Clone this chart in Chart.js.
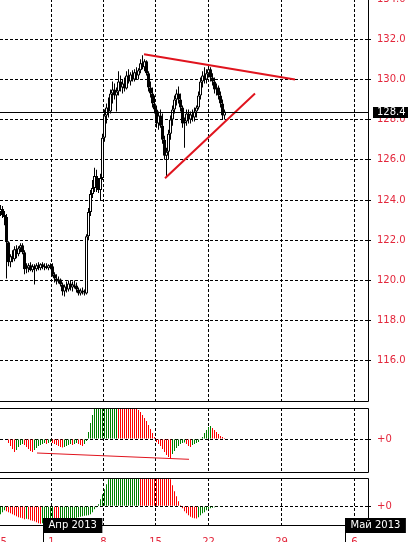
<!DOCTYPE html>
<html><head><meta charset="utf-8">
<script src="https://cdn.jsdelivr.net/npm/chart.js@4.4.1/dist/chart.umd.min.js"></script>
<style>
html,body{margin:0;padding:0;background:#fff;width:408px;height:542px;overflow:hidden;position:relative}
canvas{position:absolute;left:0}
</style></head><body>
<canvas id="c1" width="408" height="404" style="top:-1px;width:408px;height:404px"></canvas>
<canvas id="c2" width="408" height="68" style="top:406px;width:408px;height:68px"></canvas>
<canvas id="c3" width="408" height="66" style="top:476px;width:408px;height:66px"></canvas>
<script>
// ---------- DATA (bar index = H4 bar number) ----------
const open = [123.40,123.55,123.25,123.15,121.90,120.90,121.20,121.05,121.55,121.30,121.60,121.75,121.40,120.55,120.60,120.75,120.50,120.70,120.55,120.75,
120.60,120.80,120.65,120.70,120.60,120.75,120.70,120.30,120.10,119.95,120.05,119.80,119.45,119.70,119.55,119.85,119.65,119.80,119.75,119.55,
119.35,119.50,119.40,119.35,122.20,123.40,124.30,124.60,125.20,124.70,124.50,125.10,127.10,128.20,128.60,128.40,129.30,129.50,129.20,129.40,
129.90,129.60,129.80,129.55,130.20,129.90,130.25,130.00,130.35,130.20,130.45,130.80,130.60,130.90,130.30,129.60,129.30,128.80,128.50,127.80,
128.20,127.70,127.00,126.20,126.40,127.30,128.00,128.50,129.00,129.30,129.00,128.60,127.80,127.90,128.30,128.00,128.25,128.10,128.40,128.60,
129.20,129.90,130.20,130.00,130.30,130.50,130.10,129.90,129.50,129.60,129.20,128.80,128.20];
const high = [123.75,123.70,123.45,123.30,121.95,121.30,121.50,121.70,121.75,121.70,121.85,121.85,121.50,120.85,120.85,120.90,120.80,120.80,120.85,120.90,
120.85,120.90,120.85,120.85,120.80,120.85,120.85,120.40,120.30,120.20,120.10,119.90,119.80,119.95,120.00,120.00,119.95,120.00,119.90,119.65,
119.60,119.65,119.55,122.30,123.60,124.50,125.00,125.60,125.50,125.10,125.30,127.30,128.50,128.80,129.10,129.50,129.90,129.80,129.60,130.40,
130.20,130.00,130.10,130.40,130.50,130.35,130.45,130.50,130.60,130.55,131.00,131.20,131.00,130.95,130.40,129.90,129.60,129.20,128.70,128.40,
128.50,128.30,127.20,126.60,127.50,128.20,128.70,129.20,129.50,129.65,129.30,128.70,128.10,128.50,128.50,128.40,128.50,128.60,128.70,129.40,
130.10,130.40,130.60,130.50,130.70,130.60,130.30,130.10,129.80,129.70,129.40,129.00,128.50];
const low = [123.20,123.10,122.75,120.10,120.70,120.65,120.90,120.95,121.10,121.20,121.40,121.30,120.30,120.35,120.40,120.45,120.40,119.80,120.45,120.50,
120.50,120.55,120.50,120.55,120.50,120.55,120.20,119.90,119.80,119.85,119.70,119.25,119.20,119.40,119.45,119.50,119.45,119.60,119.40,119.25,
119.25,119.30,119.25,119.30,122.00,123.20,124.10,124.40,124.40,124.35,124.00,125.00,126.90,127.80,128.10,128.30,128.80,129.00,128.40,129.20,
129.40,129.30,129.40,129.50,129.80,129.70,129.90,129.90,130.00,130.00,130.30,130.50,130.40,130.20,129.40,129.10,128.60,128.30,127.60,127.50,
127.60,126.80,126.00,125.10,126.00,127.00,127.70,128.30,128.70,128.80,128.40,127.60,126.60,127.70,127.80,127.80,127.90,127.90,128.10,128.50,
129.00,129.60,129.80,129.80,130.10,129.90,129.70,129.30,129.20,129.00,128.60,128.00,128.00];
const close = [123.55,123.25,123.15,121.90,120.90,121.20,121.05,121.55,121.30,121.60,121.75,121.40,120.55,120.60,120.75,120.50,120.70,120.55,120.75,120.60,
120.80,120.65,120.70,120.60,120.75,120.70,120.30,120.10,119.95,120.05,119.80,119.45,119.70,119.55,119.85,119.65,119.80,119.75,119.55,119.35,
119.50,119.40,119.35,122.20,123.40,124.30,124.60,125.20,124.70,124.50,125.10,127.10,128.20,128.60,128.40,129.30,129.50,129.20,129.40,129.90,
129.60,129.80,129.55,130.20,129.90,130.25,130.00,130.35,130.20,130.45,130.80,130.60,130.90,130.30,129.60,129.30,128.80,128.50,127.80,128.20,
127.70,127.00,126.20,126.40,127.30,128.00,128.50,129.00,129.30,129.00,128.60,127.80,127.90,128.30,128.00,128.25,128.10,128.40,128.60,129.20,
129.90,130.20,130.00,130.30,130.50,130.10,129.90,129.50,129.60,129.20,128.80,128.20,128.40];

// oscillator 1 (first 4 bars not yet computed)
const osc1 = [null,null,null,null,-4,-7,-10,-13,-11,-8,-6,-5,-6,-8,-10,-12,-13,-11,-9,-7,
-6,-5,-4,-5,-4,-3,-4,-5,-6,-7,-8,-8.5,-8,-7,-6,-5,-6,-5,-4,-5,
-6,-7,-5,-2,7,16,24,30,35,39,42,46,50,53,55,57,58,59,60,58,
55,52,49,46,43,40,37,34,31,29,27,24,21,18,14,10,6,2,-3,-5,
-7,-10,-13,-16,-18,-19,-15,-12,-9,-7,-5,-4,-3.5,-5,-7,-8,-6,-5,-4,-3,
-1,2,6,9,12,13,11,9,7,5,3,2,1];
// oscillator 2
const osc2 = [-8,-6,-4,-5,-6,-7,-8,-9,-10,-11,-11.5,-12,-13,-12.5,-13,-14,-14.5,-15,-16,-17,
-17.5,-17,-16.5,-16,-15.5,-15,-14.8,-15.2,-15.6,-16,-15.5,-15,-14.5,-14,-13.5,-13,-12.5,-12,-11.5,-11,
-10.5,-10,-9.5,-9.2,-9,-8,-6,-3,-1,2,7,12,17,22,27,31,35,38,41,44,
46,48,50,52,53,54,55,56,57,58,57,55,53,51,49,47,45,43,41,39,
37,35,33,31,29,27,21,15,10,5,1,-2,-5,-7,-9,-10.5,-11.5,-12,-12.3,-11,
-9,-7,-6,-4,-3,-2,-1.5,-1,-0.8,-0.5,-0.3];

// trend lines (bar index, value)
const upperTrendX = [71.75, 147.25], upperTrendY = [131.25, 130.0];
const lowerTrendX = [82.25, 127.25], lowerTrendY = [125.08, 129.3];
const divTrendX = [18.25, 94.25], divTrendY = [-14, -20.3];

// axis ticks / labels
const priceTicks = [116,118,120,122,124,126,128,130,132,134];
const tickTimes = [0, 25.5, 51.5, 77.5, 104, 140.5, 177];
const tickLabels = ['25','1','8','15','22','29','6'];
const monthTimes = [21.1, 172.3];
const monthLabels = ['Апр 2013','Май 2013'];

// ---------- STYLE ----------
const AXIS_RED = '#e3263b';
const GREEN = '#008000', RED = '#ff0000', LINE_RED = '#e0141e';
const X_MIN = -0.25, X_MAX = 183.75;
Chart.defaults.font.family = "'DejaVu Sans', Verdana, sans-serif";
Chart.defaults.font.size = 10;
Chart.defaults.animation = false;
Chart.defaults.plugins.legend.display = false;
Chart.defaults.plugins.tooltip.enabled = false;

const idx = close.map((_, i) => i);
const DASH = [3, 2];

function zeroPad(s) { s.paddingTop = 0; s.paddingBottom = 0; s.paddingLeft = 0; s.paddingRight = 0; }
function xScale(showLabels) {
  return {
    type: 'linear', position: 'bottom', min: X_MIN, max: X_MAX, offset: false,
    afterBuildTicks: s => { s.ticks = tickTimes.map(v => ({ value: v })); },
    afterFit: s => { s.height = showLabels ? 17 : 0; zeroPad(s); },
    grid: { offset: false, color: c => (c.index === 0 ? 'rgba(0,0,0,0)' : '#000'), drawTicks: false, lineWidth: 1, borderDash: DASH },
    border: { display: false, dash: DASH },
    ticks: { display: showLabels, autoSkip: false, maxRotation: 0, minRotation: 0, color: AXIS_RED, padding: 11,
      callback: (v, i) => tickLabels[i] }
  };
}
function yScale(min, max, ticks, fmt) {
  return {
    type: 'linear', position: 'right', min, max,
    afterBuildTicks: s => { s.ticks = ticks.map(v => ({ value: v })); },
    afterFit: s => { s.width = 40; zeroPad(s); },
    grid: { offset: false, color: '#000', lineWidth: 1, drawTicks: true, tickLength: 5, tickColor: '#000', tickBorderDash: DASH, borderDash: DASH },
    border: { display: false, dash: DASH },
    ticks: { color: AXIS_RED, padding: 4, callback: fmt }
  };
}
function framePlugin(drawTop) {
  return {
    id: 'frame',
    afterDraw(chart) {
      const { ctx, chartArea: a } = chart;
      ctx.save();
      ctx.strokeStyle = '#000'; ctx.lineWidth = 1; ctx.setLineDash([]);
      ctx.beginPath();
      const r = Math.round(a.right) + 0.5, b = Math.round(a.bottom) + 0.5, t = Math.round(a.top) + 0.5;
      if (drawTop) { ctx.moveTo(0, t); ctx.lineTo(r, t); }
      ctx.moveTo(r, drawTop ? t : 0); ctx.lineTo(r, b); ctx.lineTo(0, b);
      ctx.stroke();
      ctx.restore();
    }
  };
}
function histColors(vals) {
  const cols = [];
  let last = GREEN;
  vals.forEach((v, i) => {
    if (v === null) { cols.push(last); return; }
    let p = i > 0 ? vals[i - 1] : null;
    let c;
    if (p === null || p === undefined) { const n = vals[i + 1]; c = (n !== null && n < v) ? RED : GREEN; }
    else c = v > p ? GREEN : (v < p ? RED : last);
    last = c; cols.push(c);
  });
  return cols;
}

// ---------- MAIN PRICE CHART ----------
const lastPrice = close[close.length - 1];
const pricePlugin = {
  id: 'price',
  afterDraw(chart) {
    const { ctx, chartArea: a } = chart;
    const y = chart.scales.y.getPixelForValue(lastPrice);
    const yy = Math.round(y) + 0.5;
    ctx.save();
    ctx.strokeStyle = '#000'; ctx.lineWidth = 1;
    ctx.beginPath(); ctx.moveTo(0, yy); ctx.lineTo(a.right, yy); ctx.stroke();
    ctx.fillStyle = '#000';
    ctx.fillRect(a.right + 5, Math.round(y) - 5, 40, 11);
    ctx.fillStyle = '#fff'; ctx.textBaseline = 'middle'; ctx.textAlign = 'left';
    ctx.font = "10px 'DejaVu Sans'";
    ctx.fillText(lastPrice.toFixed(1), a.right + 9, Math.round(y) + 0.5);
    ctx.restore();
  }
};

new Chart(document.getElementById('c1'), {
  type: 'bar',
  data: {
    datasets: [
      { type: 'line', order: 0, data: upperTrendX.map((x, k) => ({ x, y: upperTrendY[k] })),
        borderColor: LINE_RED, borderWidth: 2, pointRadius: 0, tension: 0 },
      { type: 'line', order: 0, data: lowerTrendX.map((x, k) => ({ x, y: lowerTrendY[k] })),
        borderColor: LINE_RED, borderWidth: 2, pointRadius: 0, tension: 0 },
      { order: 1, grouped: false, data: idx.map(i => ({ x: i, y: [Math.min(open[i], close[i]), Math.max(open[i], close[i])] })),
        backgroundColor: idx.map(i => close[i] >= open[i] ? '#fff' : '#000'),
        borderColor: '#000', borderWidth: 1, borderSkipped: false,
        barPercentage: 1.5, categoryPercentage: 1 },
      { order: 2, grouped: false, data: idx.map(i => ({ x: i, y: [low[i], high[i]] })),
        backgroundColor: '#000', borderWidth: 0, barPercentage: 0.5, categoryPercentage: 1 }
    ]
  },
  options: {
    responsive: false, devicePixelRatio: 1,
    layout: { padding: { top: 0, bottom: 2, left: 0, right: 0 }, autoPadding: false },
    scales: { x: xScale(false), y: yScale(114, 134, priceTicks, v => Number(v).toFixed(1)) }
  },
  plugins: [framePlugin(false), pricePlugin]
});

// ---------- OSCILLATOR 1 ----------
const osc1Idx = idx.filter(i => osc1[i] !== null && osc1[i] !== undefined);
const osc1Cols = histColors(osc1);
new Chart(document.getElementById('c2'), {
  type: 'bar',
  data: {
    datasets: [
      { type: 'line', order: 0, data: divTrendX.map((x, k) => ({ x, y: divTrendY[k] })),
        borderColor: LINE_RED, borderWidth: 1, pointRadius: 0, tension: 0 },
      { order: 1, grouped: false, data: osc1Idx.map(i => ({ x: i, y: osc1[i] })),
        backgroundColor: osc1Idx.map(i => osc1Cols[i]), borderWidth: 0, barPercentage: 0.5, categoryPercentage: 1 }
    ]
  },
  options: {
    responsive: false, devicePixelRatio: 1,
    layout: { padding: { top: 2, bottom: 2, left: 0, right: 0 }, autoPadding: false },
    scales: { x: xScale(false), y: yScale(-33, 31, [0], () => '+0') }
  },
  plugins: [framePlugin(true)]
});

// ---------- OSCILLATOR 2 + TIME AXIS ----------
const osc2Idx = idx.filter(i => i < osc2.length);
const osc2Cols = histColors(osc2);
const monthPlugin = {
  id: 'months',
  afterDraw(chart) {
    const { ctx, chartArea: a } = chart;
    const xs = chart.scales.x;
    ctx.save();
    ctx.font = "10px 'DejaVu Sans'";
    monthLabels.forEach((m, k) => {
      const left = Math.round(xs.getPixelForValue(monthTimes[k]));
      const w = ctx.measureText(m).width + 11;
      const top = Math.round(a.bottom) - 7;
      ctx.fillStyle = '#000';
      ctx.fillRect(left, top, w, 15);
      ctx.strokeStyle = '#000'; ctx.lineWidth = 1;
      ctx.beginPath(); ctx.moveTo(left + 0.5, top + 15); ctx.lineTo(left + 0.5, chart.height); ctx.stroke();
      ctx.fillStyle = '#fff'; ctx.textBaseline = 'middle'; ctx.textAlign = 'left';
      ctx.fillText(m, left + 5.5, top + 7.5);
    });
    ctx.restore();
  }
};
new Chart(document.getElementById('c3'), {
  type: 'bar',
  data: {
    datasets: [
      { order: 1, grouped: false, data: osc2Idx.map(i => ({ x: i, y: osc2[i] })),
        backgroundColor: osc2Idx.map(i => osc2Cols[i]), borderWidth: 0, barPercentage: 0.5, categoryPercentage: 1 }
    ]
  },
  options: {
    responsive: false, devicePixelRatio: 1,
    layout: { padding: { top: 2, bottom: 0, left: 0, right: 0 }, autoPadding: false },
    scales: { x: xScale(true), y: yScale(-18.7, 28.3, [0], () => '+0') }
  },
  plugins: [framePlugin(true), monthPlugin]
});
</script>
</body></html>
